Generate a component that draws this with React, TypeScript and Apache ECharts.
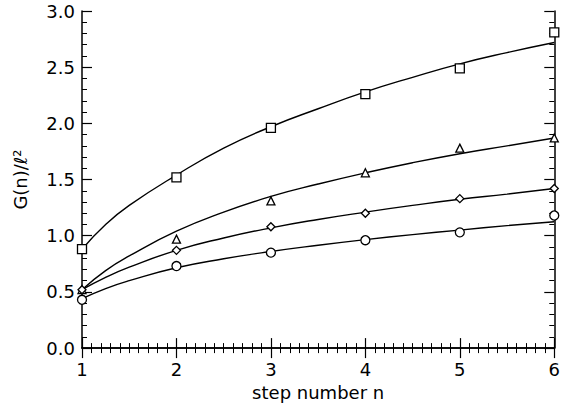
import React, { useEffect, useRef } from "react";
import * as echarts from "echarts";

// Measured points (step number n)
const stepN = [1, 2, 3, 4, 5, 6];
const squareData = [0.88, 1.52, 1.96, 2.26, 2.49, 2.81];
const triangleData = [0.52, 0.97, 1.31, 1.56, 1.78, 1.87];
const diamondData = [0.52, 0.87, 1.08, 1.2, 1.33, 1.42];
const circleData = [0.43, 0.73, 0.85, 0.96, 1.03, 1.18];

// Fitted curves
const fitN = [1, 1.25, 1.5, 2, 2.5, 3, 3.5, 4, 4.5, 5, 5.5, 6];
const squareFit = [0.88, 1.1, 1.27, 1.54, 1.78, 1.97, 2.13, 2.28, 2.41, 2.53, 2.63, 2.72];
const triangleFit = [0.52, 0.69, 0.82, 1.04, 1.21, 1.35, 1.46, 1.56, 1.65, 1.73, 1.8, 1.87];
const diamondFit = [0.52, 0.63, 0.72, 0.87, 0.98, 1.07, 1.145, 1.21, 1.27, 1.325, 1.37, 1.42];
const circleFit = [0.44, 0.53, 0.6, 0.715, 0.795, 0.86, 0.915, 0.965, 1.01, 1.05, 1.09, 1.125];

const xTitle = "step number n";
const yTitle = "G(n)/ℓ²";

const FONT = "'DejaVu Sans', 'Liberation Sans', sans-serif";

export default function App() {
  const ref = useRef<HTMLDivElement>(null);

  useEffect(() => {
    if (!ref.current) return;
    const chart = echarts.init(ref.current, null, { renderer: "svg" });

    const pair = (xs: number[], ys: number[]) => xs.map((x, i) => [x, ys[i]]);

    const lineSeries = (ys: number[]) => ({
      type: "line",
      data: pair(fitN, ys),
      showSymbol: false,
      smooth: true,
      lineStyle: { color: "#000", width: 1.4 },
      xAxisIndex: 0,
      yAxisIndex: 0,
      z: 2,
    });

    const markerSeries = (ys: number[], symbol: string, size: number) => ({
      type: "scatter",
      data: pair(stepN, ys),
      symbol,
      symbolSize: size,
      clip: false,
      itemStyle: { color: "#fff", borderColor: "#000", borderWidth: 1.3, opacity: 1 },
      xAxisIndex: 0,
      yAxisIndex: 0,
      z: 3,
    });

    const axisLine = { show: true, lineStyle: { color: "#000", width: 1.5 } };
    const textStyle = { color: "#000", fontSize: 18, fontFamily: FONT, fontWeight: "normal" };

    chart.setOption({
      animation: false,
      backgroundColor: "#fff",
      grid: { left: 82, right: 5, top: 11, bottom: 54, containLabel: false },
      xAxis: [
        {
          type: "value",
          min: 1,
          max: 6,
          interval: 1,
          position: "bottom",
          name: xTitle,
          nameLocation: "middle",
          nameGap: 34,
          nameTextStyle: textStyle,
          axisLine,
          axisTick: { show: true, inside: true, length: 10, lineStyle: { color: "#000", width: 1.2 } },
          minorTick: { show: true, splitNumber: 10, length: 5, lineStyle: { color: "#000", width: 1 } },
          axisLabel: { ...textStyle, margin: 12 },
          splitLine: { show: false },
        },
        {
          type: "value",
          min: 1,
          max: 6,
          interval: 1,
          position: "top",
          axisLine,
          axisTick: { show: true, inside: true, length: 10, lineStyle: { color: "#000", width: 1.2 } },
          minorTick: { show: true, splitNumber: 10, length: 5, lineStyle: { color: "#000", width: 1 } },
          axisLabel: { show: false },
          splitLine: { show: false },
        },
      ],
      yAxis: [
        {
          type: "value",
          min: 0,
          max: 3,
          interval: 0.5,
          position: "left",
          name: yTitle,
          nameLocation: "middle",
          nameGap: 53,
          nameRotate: 90,
          nameTextStyle: textStyle,
          axisLine,
          axisTick: { show: true, inside: true, length: 10, lineStyle: { color: "#000", width: 1.2 } },
          minorTick: { show: true, splitNumber: 5, length: 5, lineStyle: { color: "#000", width: 1 } },
          axisLabel: {
            ...textStyle,
            margin: 7,
            formatter: (v: number) => v.toFixed(1),
          },
          splitLine: { show: false },
        },
        {
          type: "value",
          min: 0,
          max: 3,
          interval: 0.5,
          position: "right",
          axisLine,
          axisTick: { show: true, inside: true, length: 10, lineStyle: { color: "#000", width: 1.2 } },
          minorTick: { show: true, splitNumber: 5, length: 5, lineStyle: { color: "#000", width: 1 } },
          axisLabel: { show: false },
          splitLine: { show: false },
        },
      ],
      series: [
        lineSeries(squareFit),
        lineSeries(triangleFit),
        lineSeries(diamondFit),
        lineSeries(circleFit),
        markerSeries(squareData, "rect", 9),
        markerSeries(triangleData, "triangle", 8),
        markerSeries(diamondData, "diamond", 8),
        markerSeries(circleData, "circle", 9),
      ],
    });

    return () => chart.dispose();
  }, []);

  return (
    <div
      ref={ref}
      style={{ position: "fixed", left: 0, top: 0, width: 563, height: 406, background: "#fff" }}
    />
  );
}
